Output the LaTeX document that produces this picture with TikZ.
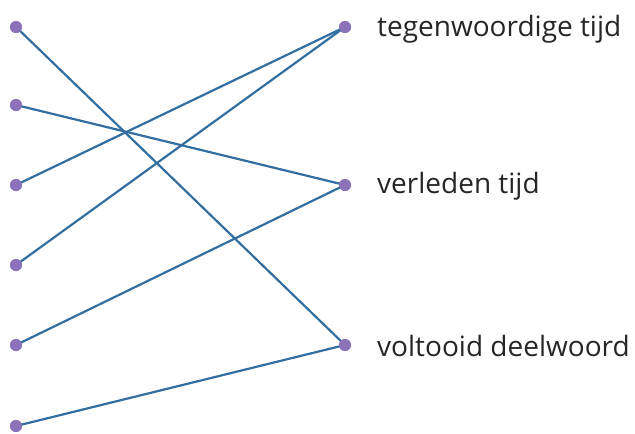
\documentclass[tikz,border=0pt]{standalone}
\usepackage{fontspec}
\setmainfont{Open Sans}
\definecolor{lineblue}{RGB}{50,110,160}
\definecolor{dotpurple}{RGB}{140,115,185}
\begin{document}
\begin{tikzpicture}[x=1pt,y=-1pt,
  dot/.style={circle,fill=dotpurple,inner sep=0pt,minimum size=12pt},
  conn/.style={draw=lineblue,line width=2.2pt},
  lab/.style={anchor=west,font=\fontsize{28}{32}\selectfont,text=black!85,inner sep=0pt}]
\useasboundingbox (0,0) rectangle (635,434);
\node[dot] (l1) at (16,27) {};
\node[dot] (l2) at (16,105) {};
\node[dot] (l3) at (16,185) {};
\node[dot] (l4) at (16,265) {};
\node[dot] (l5) at (16,345) {};
\node[dot] (l6) at (16,426) {};
\node[dot] (r1) at (345,27) {};
\node[dot] (r2) at (345,185) {};
\node[dot] (r3) at (345,345) {};
\node[lab] (t1) at (377,29) {tegenwoordige tijd};
\node[lab] (t2) at (377,186) {verleden tijd};
\node[lab] (t3) at (377,346) {voltooid deelwoord};
\path[conn] (l1.center) -- (r3.center);
\path[conn] (l2.center) -- (r2.center);
\path[conn] (l3.center) -- (r1.center);
\path[conn] (l4.center) -- (r1.center);
\path[conn] (l5.center) -- (r2.center);
\path[conn] (l6.center) -- (r3.center);
\foreach \n in {l1,l2,l3,l4,l5,l6,r1,r2,r3} \node[dot] at (\n) {};
\end{tikzpicture}
\end{document}
